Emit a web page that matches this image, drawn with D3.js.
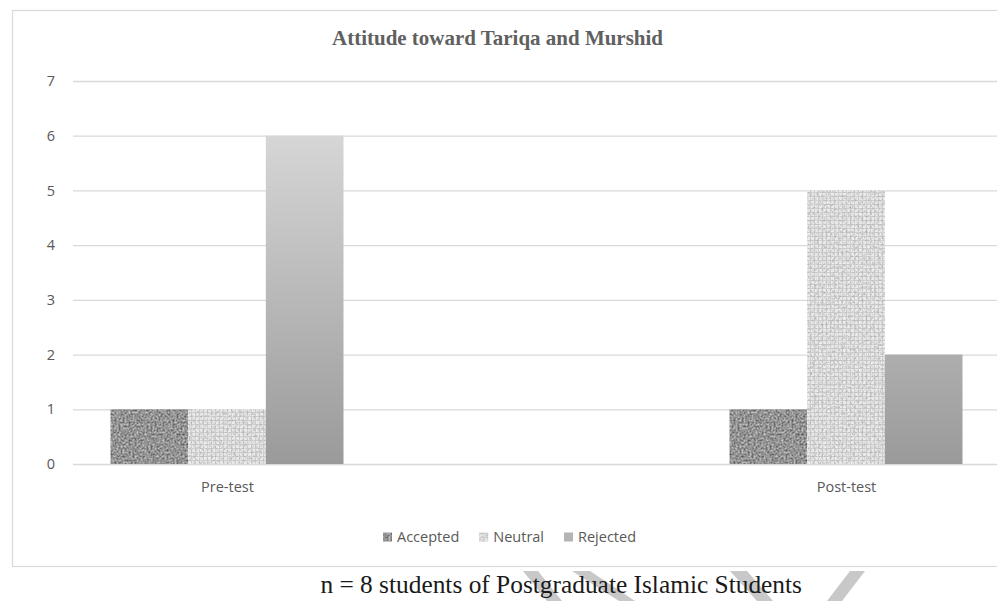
<!DOCTYPE html>
<html>
<head>
<meta charset="utf-8">
<script src="https://cdn.jsdelivr.net/npm/d3@7/dist/d3.min.js"></script>
<style>
  html, body { margin: 0; padding: 0; background: #fff; }
  svg { display: block; }
</style>
</head>
<body>
<svg id="chart" width="997" height="601"></svg>
<script>
// ---- data ----
const categories = ["Pre-test", "Post-test"];
const seriesNames = ["Accepted", "Neutral", "Rejected"];
const accepted = [1, 1];
const neutral = [1, 5];
const rejected = [6, 2];
const yTicks = [0, 1, 2, 3, 4, 5, 6, 7];
const chartTitle = "Attitude toward Tariqa and Murshid";
const caption = "n = 8 students of Postgraduate Islamic Students";

const seriesValues = { Accepted: accepted, Neutral: neutral, Rejected: rejected };

// ---- layout ----
const plot = { left: 73, right: 1000, top: 81, bottom: 464 };
const groupCenters = [227, 846];
const groupWidth = 233;
const sansFont = "'Open Sans', 'DejaVu Sans', sans-serif";
const serifFont = "'Liberation Serif', 'DejaVu Serif', serif";
const textGrey = "#595959";
const gridGrey = "#d9d9d9";

const svg = d3.select("#chart");
const defs = svg.append("defs");

// granite-like texture for "Accepted": grey noise laid over a flat grey
const fGranite = defs.append("filter").attr("id", "granite")
  .attr("color-interpolation-filters", "sRGB")
  .attr("x", 0).attr("y", 0).attr("width", 1).attr("height", 1);
fGranite.append("feTurbulence").attr("type", "fractalNoise")
  .attr("baseFrequency", 0.5).attr("numOctaves", 2).attr("seed", 4).attr("result", "n");
fGranite.append("feColorMatrix").attr("in", "n").attr("type", "matrix")
  .attr("values", "1.3 0 0 0 -0.06  1.3 0 0 0 -0.06  1.3 0 0 0 -0.06  0 0 0 0 0.55")
  .attr("result", "g");
fGranite.append("feComposite").attr("in", "g").attr("in2", "SourceGraphic").attr("operator", "atop");

// woven canvas texture for "Neutral"
const weave = defs.append("pattern").attr("id", "weave")
  .attr("patternUnits", "userSpaceOnUse").attr("width", 4).attr("height", 4);
weave.append("rect").attr("width", 4).attr("height", 4).attr("fill", "#ececec");
weave.append("path").attr("d", "M0.5,0V4M0,0.5H4")
  .attr("stroke", "#c8c8c8").attr("stroke-width", 1).attr("opacity", 0.7);

const fWeave = defs.append("filter").attr("id", "weaveNoise")
  .attr("color-interpolation-filters", "sRGB")
  .attr("x", 0).attr("y", 0).attr("width", 1).attr("height", 1);
fWeave.append("feTurbulence").attr("type", "fractalNoise")
  .attr("baseFrequency", 0.45).attr("numOctaves", 2).attr("seed", 9).attr("result", "n");
fWeave.append("feColorMatrix").attr("in", "n").attr("type", "matrix")
  .attr("values", "0 0 0 0 0.6  0 0 0 0 0.6  0 0 0 0 0.6  1.4 0 0 0 -0.58")
  .attr("result", "spots");
fWeave.append("feComposite").attr("in", "spots").attr("in2", "SourceGraphic").attr("operator", "atop");

// vertical grey gradient for "Rejected", spanning the plot
const y = d3.scaleLinear().domain([0, 7]).range([plot.bottom, plot.top]);

const grad = defs.append("linearGradient").attr("id", "rejGrad")
  .attr("gradientUnits", "userSpaceOnUse")
  .attr("x1", 0).attr("x2", 0).attr("y1", y(6)).attr("y2", y(0));
grad.append("stop").attr("offset", 0).attr("stop-color", "#d6d6d6");
grad.append("stop").attr("offset", 1).attr("stop-color", "#9a9a9a");

const fills = {
  Accepted: { fill: "#8e8e8e", filter: "url(#granite)" },
  Neutral: { fill: "url(#weave)", filter: "url(#weaveNoise)" },
  Rejected: { fill: "url(#rejGrad)", filter: null }
};

// ---- chart frame ----
svg.append("rect")
  .attr("x", 12.5).attr("y", 10.5).attr("width", 1010).attr("height", 556)
  .attr("fill", "#fff").attr("stroke", gridGrey).attr("stroke-width", 1.2);

// ---- title ----
const title = svg.append("text")
  .attr("x", 497.5).attr("y", 45)
  .attr("text-anchor", "middle")
  .attr("font-family", serifFont).attr("font-weight", "bold")
  .attr("font-size", 20).attr("fill", "#606060")
  .text(chartTitle);
{
  const w = title.node().getComputedTextLength();
  title.attr("font-size", 20 * 331 / w);
}

// ---- y axis with gridlines ----
const yAxis = d3.axisLeft(y)
  .tickValues(yTicks)
  .tickFormat(d3.format("d"))
  .tickSize(-(plot.right - plot.left))
  .tickPadding(18);

const gy = svg.append("g")
  .attr("transform", `translate(${plot.left},0)`)
  .call(yAxis);
gy.select(".domain").remove();
gy.selectAll(".tick line").attr("stroke", gridGrey).attr("stroke-width", 1.3);
gy.selectAll(".tick text")
  .attr("font-family", sansFont).attr("font-size", 14.5).attr("fill", textGrey);

// ---- x positions ----
const x = d3.scaleOrdinal().domain(categories).range(groupCenters);
const xs = d3.scaleBand().domain(seriesNames).range([-groupWidth / 2, groupWidth / 2]).padding(0);

// ---- bars ----
const groups = svg.append("g").selectAll("g")
  .data(categories)
  .join("g")
  .attr("transform", d => `translate(${x(d)},0)`);

groups.selectAll("rect")
  .data((c, i) => seriesNames.map(s => ({ s, v: seriesValues[s][i] })))
  .join("rect")
  .attr("x", d => xs(d.s))
  .attr("width", xs.bandwidth())
  .attr("y", d => y(d.v))
  .attr("height", d => y(0) - y(d.v))
  .attr("fill", d => fills[d.s].fill)
  .attr("filter", d => fills[d.s].filter);

// ---- x axis labels ----
const xAxis = d3.axisBottom(d3.scalePoint().domain(categories).range(groupCenters))
  .tickSize(0).tickPadding(18);
const gx = svg.append("g")
  .attr("transform", `translate(0,${plot.bottom})`)
  .call(xAxis);
gx.select(".domain").remove();
gx.selectAll(".tick text")
  .attr("font-family", sansFont).attr("font-size", 14.5).attr("fill", textGrey);

// ---- legend ----
const legend = svg.append("g").attr("transform", "translate(383,537)");
let lx = 0;
seriesNames.forEach(s => {
  const item = legend.append("g").attr("transform", `translate(${lx},0)`);
  item.append("rect")
    .attr("x", 0).attr("y", -4.5).attr("width", 9).attr("height", 9)
    .attr("fill", s === "Rejected" ? "#b4b4b4" : fills[s].fill)
    .attr("filter", fills[s].filter);
  const t = item.append("text")
    .attr("x", 14).attr("y", 0).attr("dy", "0.35em")
    .attr("font-family", sansFont).attr("font-size", 14.5).attr("fill", textGrey)
    .text(s);
  lx += 14 + t.node().getComputedTextLength() + 20;
});

// ---- page watermark strokes below the chart ----
const marks = [
  [[523, 571], [538, 571], [562, 601], [547, 601]],
  [[572, 571], [590, 571], [635, 601], [619, 601]],
  [[730, 571], [747, 571], [773, 601], [757, 601]],
  [[850, 571], [865, 571], [842, 601], [827, 601]]
];
svg.append("g").selectAll("path")
  .data(marks)
  .join("path")
  .attr("d", d => d3.line()(d) + "Z")
  .attr("fill", "#c8c8c8");

// ---- caption ----
const cap = svg.append("text")
  .attr("x", 802).attr("y", 593)
  .attr("text-anchor", "end")
  .attr("font-family", serifFont).attr("font-size", 22).attr("fill", "#1a1a1a")
  .text(caption);
{
  const w = cap.node().getComputedTextLength();
  cap.attr("font-size", 22 * 482 / w);
}
</script>
</body>
</html>
